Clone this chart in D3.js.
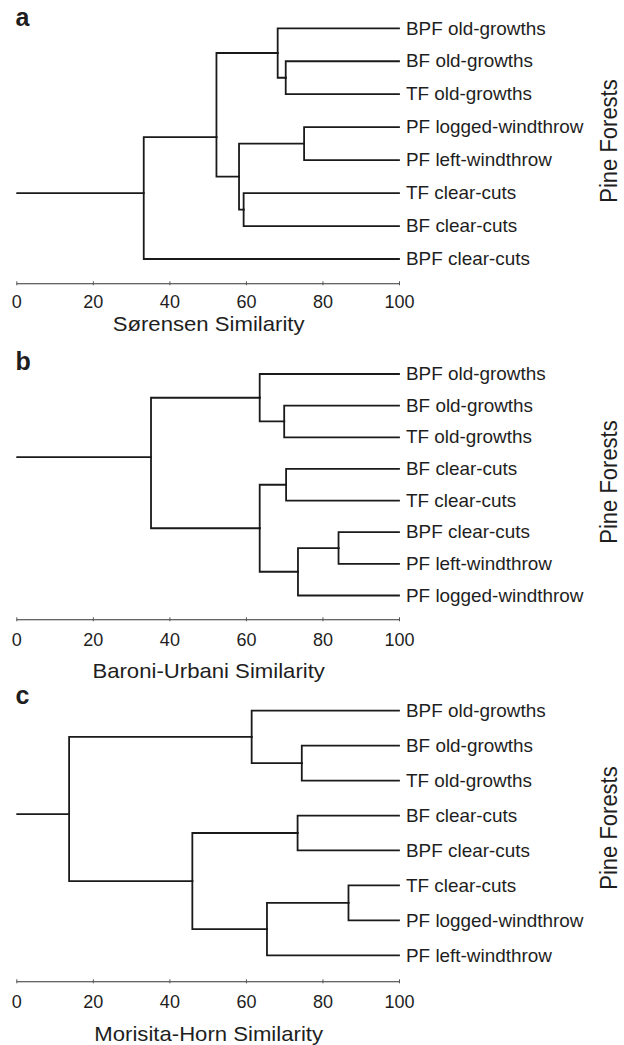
<!DOCTYPE html>
<html>
<head>
<meta charset="utf-8">
<script src="https://cdn.jsdelivr.net/npm/d3@7"></script>
<style>
  body { margin: 0; background: #fff; }
  svg { display: block; }
  text { font-family: "Liberation Sans", Arial, Helvetica, sans-serif; fill: #1e1e1e; }
</style>
</head>
<body>
<svg id="chart" width="624" height="1045"></svg>
<script>
// leaf order (top to bottom) for each dendrogram
var leavesA = ["BPF old-growths", "BF old-growths", "TF old-growths", "PF logged-windthrow",
  "PF left-windthrow", "TF clear-cuts", "BF clear-cuts", "BPF clear-cuts"];
var leavesB = ["BPF old-growths", "BF old-growths", "TF old-growths", "BF clear-cuts",
  "TF clear-cuts", "BPF clear-cuts", "PF left-windthrow", "PF logged-windthrow"];
var leavesC = ["BPF old-growths", "BF old-growths", "TF old-growths", "BF clear-cuts",
  "BPF clear-cuts", "TF clear-cuts", "PF logged-windthrow", "PF left-windthrow"];

// merges: [child, child, similarity]  (L# = leaf index, N# = merge index)
var mergesA = [["L1", "L2", 70.4], ["L0", "N0", 68.3], ["L3", "L4", 75.2], ["L5", "L6", 59.4],
  ["N2", "N3", 58.2], ["N1", "N4", 52.3], ["N5", "L7", 33.3]];
var mergesB = [["L1", "L2", 70.0], ["L0", "N0", 63.6], ["L3", "L4", 70.5], ["L5", "L6", 84.2],
  ["N3", "L7", 73.6], ["N2", "N4", 63.6], ["N1", "N5", 35.2]];
var mergesC = [["L1", "L2", 74.6], ["L0", "N0", 61.5], ["L3", "L4", 73.5], ["L5", "L6", 86.8],
  ["N3", "L7", 65.5], ["N2", "N4", 46.0], ["N1", "N5", 13.8]];

// branch points that the figure does not draw at the midpoint (in leaf-rank units)
var junctionA = {N5: 3.3, N6: 5.0};
var junctionB = {N6: 2.63};
var junctionC = {N6: 2.96};

var xTicks = [0, 20, 40, 60, 80, 100];

var panels = [
  {letter: "a", leaves: leavesA, merges: mergesA, junction: junctionA, title: "S\u00f8rensen Similarity",
   top: 28.3, bottom: 259, axisY: 283.3, tickY: 24.5, titleY: 330.5, letterY: 26, pineY: 141},
  {letter: "b", leaves: leavesB, merges: mergesB, junction: junctionB, title: "Baroni-Urbani Similarity",
   top: 374, bottom: 595.5, axisY: 619.3, tickY: 26.5, titleY: 677.5, letterY: 370, pineY: 482},
  {letter: "c", leaves: leavesC, merges: mergesC, junction: junctionC, title: "Morisita-Horn Similarity",
   top: 710.7, bottom: 955.3, axisY: 981.3, tickY: 26.5, titleY: 1041, letterY: 704, pineY: 828}
];

var svg = d3.select("#chart");
var x = d3.scaleLinear().domain([0, 100]).range([16.3, 399]);

var drawPanel = function(p) {
  var g = svg.append("g");
  var y = d3.scaleLinear().domain([0, p.leaves.length - 1]).range([p.top, p.bottom]);

  // build node table: rank position and similarity
  var nodes = {};
  p.leaves.forEach(function(name, i) {
    nodes["L" + i] = {rank: i, sim: 100, name: name};
  });
  p.merges.forEach(function(m, i) {
    var a = nodes[m[0]], b = nodes[m[1]];
    var id = "N" + i;
    var rank = (p.junction[id] !== undefined) ? p.junction[id] : (a.rank + b.rank) / 2;
    nodes[id] = {rank: rank, sim: m[2], kids: [a, b]};
  });

  var links = [];
  p.merges.forEach(function(m, i) {
    var parent = nodes["N" + i];
    parent.kids.forEach(function(k) {
      links.push({parent: parent, child: k});
    });
  });
  var root = nodes["N" + (p.merges.length - 1)];

  g.selectAll("path.link")
    .data(links)
    .enter()
    .append("path")
    .attr("class", "link")
    .attr("d", function(d) {
      return "M" + x(d.parent.sim) + "," + y(d.parent.rank) +
        "V" + y(d.child.rank) + "H" + x(d.child.sim);
    })
    .attr("fill", "none")
    .attr("stroke", "#1a1a1a")
    .attr("stroke-width", 1.8)
    .attr("stroke-linecap", "square");

  // root stub from 0
  g.append("path")
    .attr("d", "M" + x(0) + "," + y(root.rank) + "H" + x(root.sim))
    .attr("fill", "none")
    .attr("stroke", "#1a1a1a")
    .attr("stroke-width", 1.8);

  // leaf labels
  g.selectAll("text.leaf")
    .data(p.leaves)
    .enter()
    .append("text")
    .attr("class", "leaf")
    .attr("transform", function(d, i) {
      return "translate(" + (x(100) + 7) + "," + (y(i) + 6.2) + ") scale(1.08,1)";
    })
    .style("font-size", "17.5px")
    .text(function(d) { return d; });

  // axis
  var axis = d3.axisBottom(x).tickValues(xTicks).tickSizeOuter(0).tickSizeInner(2).tickPadding(0);
  var ag = g.append("g").attr("transform", "translate(0," + p.axisY + ")").call(axis);
  ag.select(".domain").attr("stroke", "#333").attr("stroke-width", 1.1);
  ag.selectAll(".tick line").attr("y1", -2).attr("y2", 2).attr("stroke", "#555");
  ag.selectAll(".tick text")
    .attr("y", p.tickY)
    .attr("dy", null)
    .attr("transform", "scale(1.03,1)")
    .attr("fill", "#1e1e1e")
    .style("font-size", "17.5px")
    .style("font-family", "\"Liberation Sans\", Arial, sans-serif");

  g.append("text")
    .attr("transform", "translate(" + ((x(0) + x(100)) / 2 + 1) + "," + p.titleY + ") scale(1.08,1)")
    .attr("text-anchor", "middle")
    .style("font-size", "20.5px")
    .text(p.title);

  g.append("text")
    .attr("x", 15.5)
    .attr("y", p.letterY)
    .style("font-size", "25px")
    .style("font-weight", "bold")
    .text(p.letter);

  g.append("text")
    .attr("transform", "translate(617," + p.pineY + ") rotate(-90) scale(1,1.05)")
    .attr("text-anchor", "middle")
    .style("font-size", "22px")
    .text("Pine Forests");
};

panels.forEach(drawPanel);
</script>
</body>
</html>
